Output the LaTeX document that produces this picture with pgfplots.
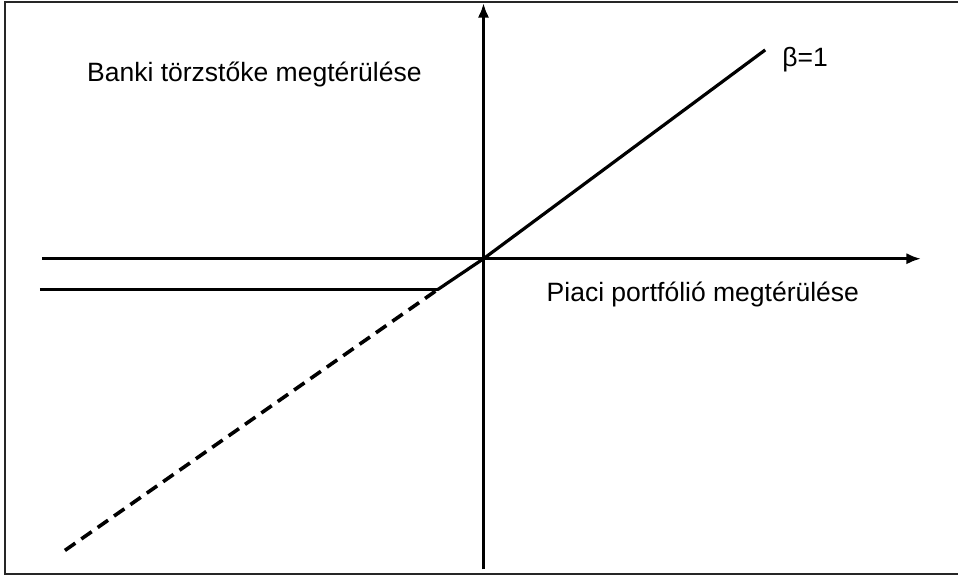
\documentclass[border=0pt]{standalone}
\usepackage{fontspec}
\setmainfont{Liberation Sans}
\usepackage{pgfplots}
\pgfplotsset{compat=1.18}
\usetikzlibrary{arrows.meta}
\begin{document}
\begin{tikzpicture}
\begin{axis}[width=719.25pt, height=432.75pt, scale only axis,
  xmin=0, xmax=959, ymin=0, ymax=577, hide axis, clip=false]
\path (rel axis cs:0,0) rectangle (rel axis cs:1,1);
% frame (open on the right)
\draw[line width=1.5pt, black!85] (axis cs:959,575) -- (axis cs:5,575) -- (axis cs:5,2) -- (axis cs:959,2);
% axes
\addplot[line width=2.6pt, -{Latex[length=11pt, width=8.5pt]}] coordinates {(42,318) (922,318)};
\addplot[line width=2.8pt, -{Latex[length=11pt, width=8.5pt]}] coordinates {(484,7) (484,574)};
% horizontal level line
\addplot[line width=2.4pt] coordinates {(40,287) (438,287)};
% beta = 1 line
\addplot[line width=2.4pt] coordinates {(438,287) (484,318) (766,527)};
\addplot[line width=2.7pt, dash pattern=on 9.5pt off 5.5pt] coordinates {(65,26) (438,287)};
\node[anchor=base west, inner sep=0pt, font=\fontsize{19.9}{24}\selectfont] at (axis cs:87,495) {Banki törzstőke megtérülése};
\node[anchor=base west, inner sep=0pt, font=\fontsize{19.9}{24}\selectfont] at (axis cs:547,275) {Piaci portfólió megtérülése};
\node[anchor=base west, inner sep=0pt, font=\fontsize{19.9}{24}\selectfont] at (axis cs:783,510) {β=1};
\end{axis}
\end{tikzpicture}
\end{document}
